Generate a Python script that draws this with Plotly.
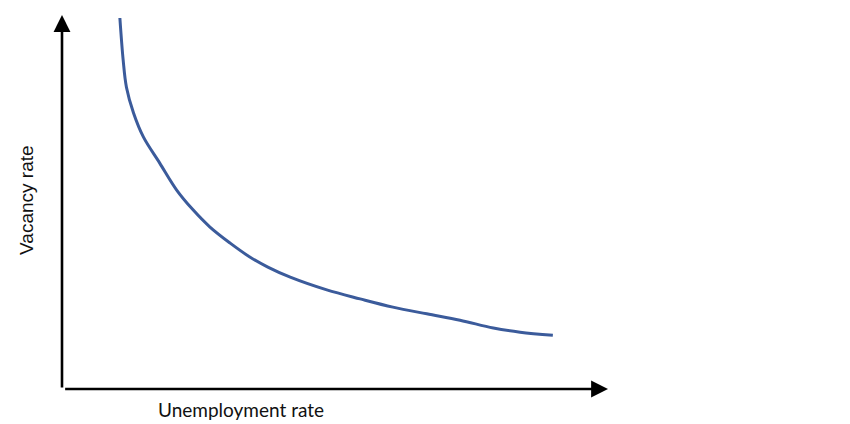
import plotly.graph_objects as go

# Beveridge curve (unemployment rate vs vacancy rate), arbitrary units 0-10
unemployment = [1.06, 1.12, 1.18, 1.31, 1.49, 1.79, 2.10, 2.40, 2.71, 3.08, 3.44,
                3.77, 4.18, 4.85, 5.46, 6.06, 6.68, 7.29, 7.90, 8.39, 8.99]
vacancy = [9.92, 8.80, 8.07, 7.38, 6.74, 6.04, 5.32, 4.79, 4.33, 3.90, 3.53,
           3.26, 2.99, 2.65, 2.41, 2.19, 2.01, 1.84, 1.63, 1.52, 1.44]
x_label = "Unemployment rate"
y_label = "Vacancy rate"

fig = go.Figure()
fig.add_trace(go.Scatter(
    x=unemployment, y=vacancy, mode="lines",
    line=dict(color="#3b5b9b", width=3, shape="spline", smoothing=1.0),
    hoverinfo="skip", showlegend=False,
))

# axis arrows
fig.add_annotation(x=10, y=0, ax=0.03, ay=0, xref="x", yref="y", axref="x", ayref="y",
                   showarrow=True, arrowhead=2, arrowsize=1.3, arrowwidth=2.6,
                   arrowcolor="black", text="")
fig.add_annotation(x=0, y=10, ax=0, ay=0, xref="x", yref="y", axref="x", ayref="y",
                   showarrow=True, arrowhead=2, arrowsize=1.3, arrowwidth=2.6,
                   arrowcolor="black", text="")

fig.add_annotation(x=0.328, y=-0.0535, xref="paper", yref="paper",
                   text=x_label, showarrow=False, xanchor="center", yanchor="middle",
                   font=dict(family="Lato, Open Sans, sans-serif", size=19, color="#111"))
fig.add_annotation(x=-0.064, y=0.503, xref="paper", yref="paper",
                   text=y_label, showarrow=False, textangle=-90,
                   xanchor="center", yanchor="middle",
                   font=dict(family="Liberation Sans, Arial, sans-serif", size=19, color="#111"))

fig.update_layout(
    width=850, height=424,
    margin=dict(l=54, r=250, t=7, b=43),
    plot_bgcolor="white", paper_bgcolor="white",
    xaxis=dict(range=[0, 10], visible=False, fixedrange=True),
    yaxis=dict(range=[0, 10], visible=False, fixedrange=True),
)

fig.write_html("out.html")
